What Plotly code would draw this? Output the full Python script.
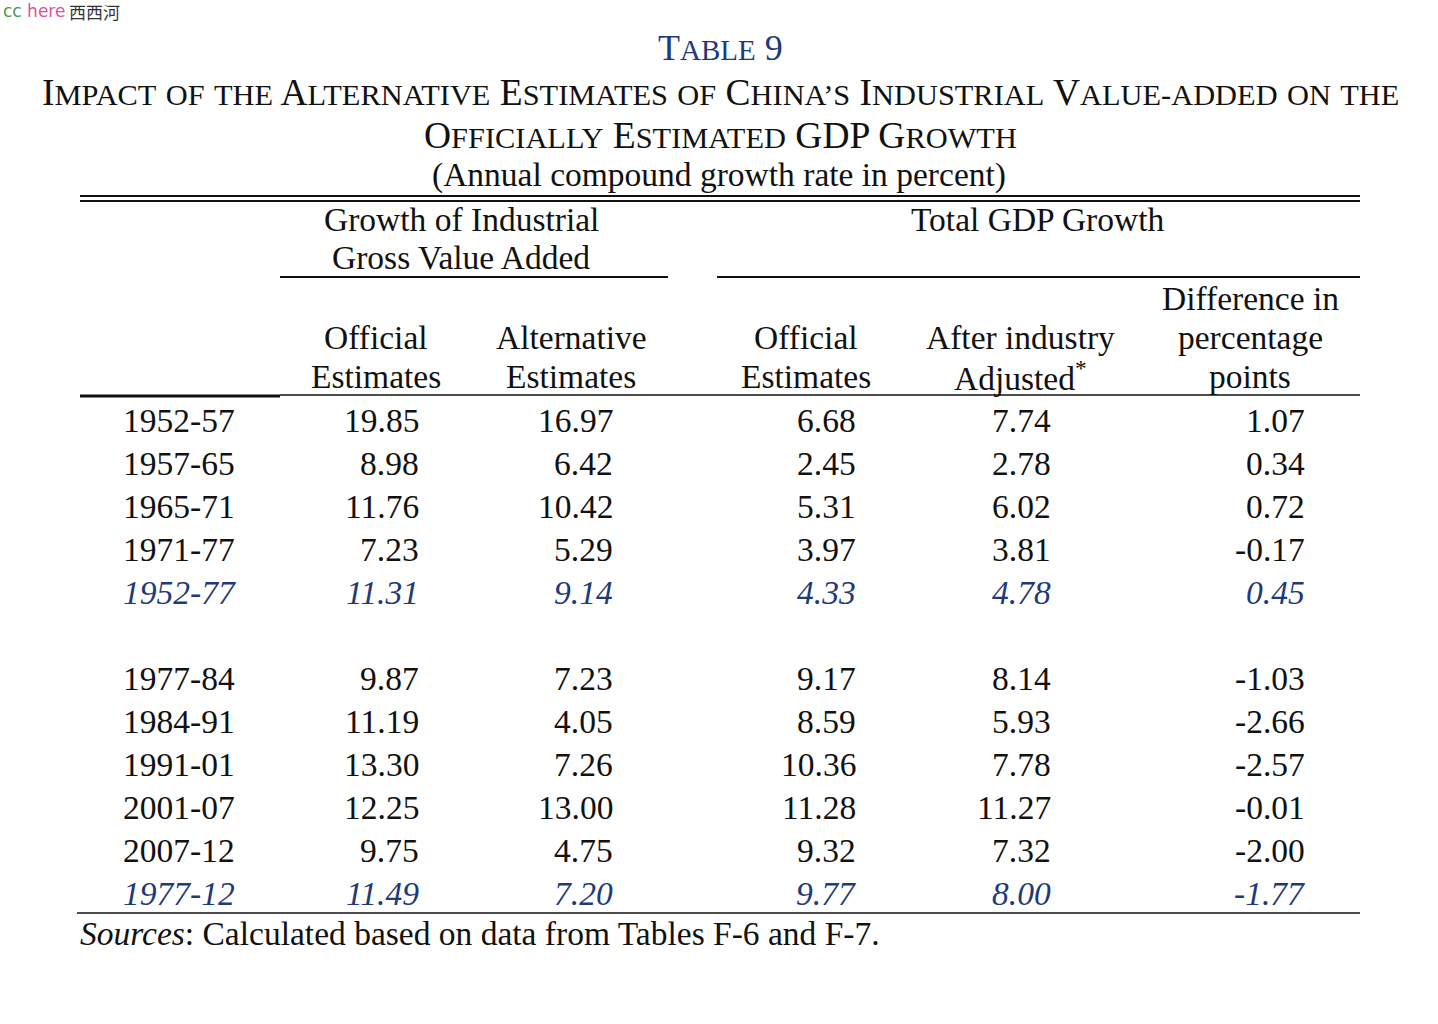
import plotly.graph_objects as go

# ---------------- data ----------------
periods = ["1952-57", "1957-65", "1965-71", "1971-77", "1952-77",
           "1977-84", "1984-91", "1991-01", "2001-07", "2007-12", "1977-12"]
ind_official = [19.85, 8.98, 11.76, 7.23, 11.31, 9.87, 11.19, 13.30, 12.25, 9.75, 11.49]
ind_alternative = [16.97, 6.42, 10.42, 5.29, 9.14, 7.23, 4.05, 7.26, 13.00, 4.75, 7.20]
gdp_official = [6.68, 2.45, 5.31, 3.97, 4.33, 9.17, 8.59, 10.36, 11.28, 9.32, 9.77]
gdp_adjusted = [7.74, 2.78, 6.02, 3.81, 4.78, 8.14, 5.93, 7.78, 11.27, 7.32, 8.00]
difference = [1.07, 0.34, 0.72, -0.17, 0.45, -1.03, -2.66, -2.57, -0.01, -2.00, -1.77]
summary_rows = [4, 10]
group_break_after = 4

# ---------------- layout constants ----------------
W, H = 1438, 1024
SERIF = "Liberation Serif"
BLACK = "#111111"
BLUE = "#1f3a78"
FS = 33.5                 # body font size
BIG, SMALL = 37.5, 30.4   # small-caps title sizes

col_right = [421, 615, 858, 1053, 1307]   # right edges of numeric columns
period_left = 121
row0_y, row_step = 420, 43
table_left, table_right = 80, 1360

annotations = []
shapes = []


def add_text(x, y, text, size=FS, color=BLACK, xanchor="center", italic=False, family=SERIF):
    annotations.append(dict(
        x=x, y=y, xref="x", yref="y", text=text, showarrow=False,
        xanchor=xanchor, yanchor="middle",
        font=dict(family=family, size=size, color=color,
                  style="italic" if italic else "normal"),
    ))


def sc(word, big=BIG, small=SMALL):
    """small caps: first letter big, the rest small capitals"""
    first, rest = word[0], word[1:]
    out = f'<span style="font-size:{big}px">{first}</span>'
    if rest:
        out += f'<span style="font-size:{small}px">{rest.upper()}</span>'
    return out


def sm(word, small=SMALL):
    """all small capitals"""
    return f'<span style="font-size:{small}px">{word.upper()}</span>'


def big(word, size=BIG):
    return f'<span style="font-size:{size}px">{word}</span>'


def hline(x0, x1, y, width=2):
    shapes.append(dict(type="line", xref="x", yref="y", x0=x0, x1=x1, y0=y, y1=y,
                       line=dict(color=BLACK, width=width)))


# ---------------- title ----------------
title1 = sc("Table", 36, 29) + " " + big("9", 36)
title2 = " ".join([sc("Impact"), sm("of"), sm("the"), sc("Alternative"), sc("Estimates"),
                   sm("of"), sc("China’s"), sc("Industrial"),
                   sc("Value") + sm("-added"),
                   sm("on"), sm("the")])
title3 = " ".join([sc("Officially"), sc("Estimated"), big("GDP"), sc("Growth")])
add_text(720, 48, title1, size=36, color=BLUE)
add_text(720, 92, title2, size=BIG)
add_text(720, 135, title3, size=BIG)
add_text(719, 175, "(Annual compound growth rate in percent)", size=FS)

# ---------------- rules ----------------
hline(table_left, table_right, 196, 2)
hline(table_left, table_right, 201, 2)
hline(280, 668, 277, 2)
hline(717, table_right, 277, 2)
hline(table_left, 280, 396, 3)
hline(280, table_right, 395, 1.5)
hline(77, table_right, 913, 1.5)

# ---------------- headers ----------------
add_text(461, 219, "Growth of Industrial")
add_text(461, 257, "Gross Value Added")
add_text(1037, 219, "Total GDP Growth")
header_cols = [
    (376, ["Official", "Estimates"]),
    (571, ["Alternative", "Estimates"]),
    (806, ["Official", "Estimates"]),
    (1020, ["After industry", "Adjusted<sup>*</sup>"]),
    (1250, ["Difference in", "percentage", "points"]),
]
for cx, lines in header_cols:
    n = len(lines)
    for k, ln in enumerate(lines):
        add_text(cx, 376 - 39 * (n - 1 - k), ln)

# ---------------- body ----------------
columns = [ind_official, ind_alternative, gdp_official, gdp_adjusted, difference]
for i, p in enumerate(periods):
    y = row0_y + row_step * (i + (1 if i > group_break_after else 0))
    is_sum = i in summary_rows
    color = BLUE if is_sum else BLACK
    add_text(period_left, y, p, color=color, xanchor="left", italic=is_sum)
    for c, vals in enumerate(columns):
        add_text(col_right[c], y, f"{vals[i]:.2f}", color=color, xanchor="right", italic=is_sum)

# ---------------- source note ----------------
add_text(78, 933, "<i>Sources</i>: Calculated based on data from Tables F-6 and F-7.",
         xanchor="left")

# ---------------- watermark ----------------
add_text(1, 11, '<span style="color:#4a9a4a">cc</span><span style="color:#e0509a"> here</span>',
         size=17, xanchor="left", family="DejaVu Sans")
add_text(67, 11, "西西河", size=17, color="#333333", xanchor="left", family="Noto Sans CJK SC")

fig = go.Figure()
fig.update_layout(
    width=W, height=H,
    margin=dict(l=0, r=0, t=0, b=0),
    paper_bgcolor="white", plot_bgcolor="white",
    xaxis=dict(range=[0, W], visible=False, fixedrange=True),
    yaxis=dict(range=[H, 0], visible=False, fixedrange=True),
    annotations=annotations,
    shapes=shapes,
    showlegend=False,
)
fig.write_html(
    "out.html",
    config={"displayModeBar": False, "staticPlot": True},
    post_script="document.body.style.margin='0';document.body.style.overflow='hidden';",
)
